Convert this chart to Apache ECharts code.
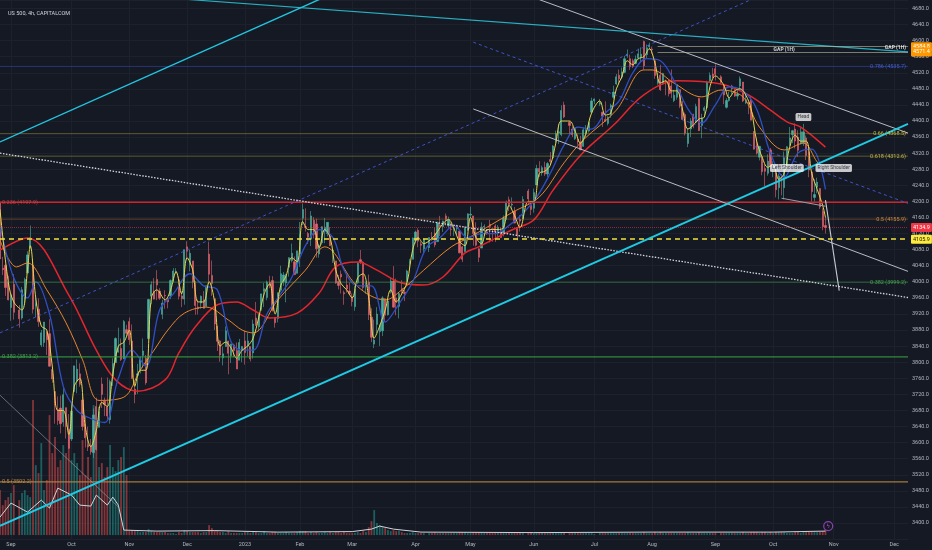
<!DOCTYPE html>
<html><head><meta charset="utf-8">
<script src="https://cdn.jsdelivr.net/npm/echarts@6/dist/echarts.min.js"></script>
<style>html,body{margin:0;padding:0;background:#151924}#c{width:932px;height:550px}</style>
</head><body><div id="c"></div><script>
// ---- daily candles: [day, open, high, low, close, volume] ----
const aug22=[[26,4198,4203,4057,4057,45],[29,4034,4062,4017,4030,30],[30,4041,4044,3965,3986,35],[31,4000,4015,3954,3955,38]];
const sep22=[[1,3936,3970,3903,3967,42],[2,3994,4019,3906,3924,50],[6,3930,3942,3886,3908,35],[7,3910,3987,3906,3980,42],[8,3959,4010,3944,4006,45],[9,4022,4076,4022,4067,40],[12,4084,4140,4083,4110,38],[13,4041,4050,3921,3932,135],[14,3940,3961,3912,3946,70],[15,3932,3959,3888,3901,62],[16,3843,3880,3838,3873,92],[19,3849,3900,3838,3900,45],[20,3876,3876,3818,3856,55],[21,3871,3907,3789,3790,120],[22,3782,3790,3749,3758,82],[23,3727,3727,3647,3693,98],[26,3682,3715,3644,3655,68],[27,3686,3717,3623,3647,75],[28,3651,3736,3640,3719,90],[29,3687,3687,3610,3640,82],[30,3633,3671,3584,3586,105]];
const oct22=[[3,3609,3698,3604,3678,75],[4,3727,3791,3727,3791,82],[5,3753,3807,3723,3783,72],[6,3771,3797,3739,3745,60],[7,3706,3718,3630,3640,95],[10,3647,3665,3588,3612,60],[11,3595,3640,3579,3589,78],[12,3591,3609,3570,3577,58],[13,3575,3685,3562,3669,130],[14,3690,3712,3580,3583,105],[17,3638,3689,3638,3677,68],[18,3746,3762,3686,3720,72],[19,3703,3712,3666,3695,58],[20,3689,3762,3657,3666,68],[21,3657,3757,3647,3752,90],[24,3762,3810,3741,3797,68],[25,3799,3862,3799,3859,64],[26,3825,3886,3824,3830,75],[27,3834,3859,3803,3807,78],[28,3808,3905,3808,3901,88],[31,3881,3893,3863,3872,60]];
const nov22=[[1,3901,3911,3843,3856,4],[2,3853,3894,3758,3760,5],[3,3733,3750,3698,3720,4],[4,3767,3796,3721,3771,4],[7,3780,3814,3772,3807,3],[8,3817,3859,3786,3828,3],[9,3810,3818,3744,3749,3],[10,3859,3958,3859,3956,6],[11,3964,4001,3944,3993,4],[14,3977,4009,3956,3957,3],[15,4006,4029,3954,3992,3],[16,3977,3984,3955,3959,3],[17,3919,3955,3907,3947,3],[18,3966,3979,3933,3965,3],[21,3956,3962,3934,3950,2],[22,3965,4006,3957,4003,2],[23,4001,4034,3999,4027,2],[25,4023,4034,4020,4026,1],[28,4005,4013,3956,3964,3],[29,3965,3976,3937,3958,2],[30,3957,4080,3943,4080,5]];
const dec22=[[1,4087,4101,4054,4076,4],[2,4041,4080,4026,4071,3],[5,4052,4052,3984,3999,3],[6,3996,4002,3918,3941,3],[7,3937,3956,3919,3933,3],[8,3947,3966,3933,3964,2],[9,3955,3977,3933,3934,3],[12,3939,3991,3937,3990,3],[13,4069,4100,3994,4019,10],[14,4016,4053,3965,3996,7],[15,3958,3958,3880,3895,5],[16,3890,3890,3828,3852,4],[19,3853,3855,3801,3818,3],[20,3811,3839,3792,3821,3],[21,3839,3889,3839,3878,2],[22,3853,3853,3770,3822,4],[23,3816,3846,3798,3845,2],[27,3843,3846,3813,3829,2],[28,3829,3849,3783,3783,2],[29,3805,3858,3805,3849,2],[30,3830,3840,3800,3839,2]];
const jan23=[[3,3853,3878,3794,3824,3],[4,3840,3873,3815,3853,3],[5,3839,3839,3802,3808,2],[6,3823,3906,3809,3895,4],[9,3910,3950,3890,3893,3],[10,3888,3920,3877,3919,2],[11,3932,3970,3928,3970,2],[12,3977,3997,3937,3983,4],[13,3961,4003,3954,3999,2],[17,3999,4015,3984,3991,2],[18,4003,4014,3926,3929,3],[19,3912,3912,3886,3898,3],[20,3909,3973,3899,3973,2],[23,3979,4040,3974,4020,2],[24,4001,4024,3990,4017,2],[25,3997,4020,3949,4016,3],[26,4036,4061,4013,4060,2],[27,4053,4095,4048,4071,2],[30,4050,4063,4018,4018,2],[31,4021,4077,4021,4077,3]];
const feb23=[[1,4070,4149,4037,4119,4],[2,4158,4195,4141,4180,4],[3,4137,4183,4125,4136,4],[6,4120,4124,4094,4111,2],[7,4106,4176,4089,4164,3],[8,4153,4161,4108,4118,2],[9,4144,4157,4060,4082,3],[10,4069,4094,4060,4090,2],[13,4097,4138,4092,4137,2],[14,4127,4159,4096,4136,3],[15,4120,4148,4113,4148,2],[16,4114,4136,4089,4090,3],[17,4073,4081,4047,4079,2],[21,4052,4052,3995,3997,3],[22,4001,4017,3981,3991,3],[23,4019,4028,3971,4012,2],[24,3973,3978,3943,3970,3],[27,3992,4018,3973,3982,2],[28,3977,3998,3968,3970,2]];
const mar23=[[1,3963,3971,3939,3951,2],[2,3938,3990,3928,3981,2],[3,3998,4048,3995,4046,3],[6,4055,4079,4044,4048,2],[7,4049,4051,3980,3986,4],[8,3988,4000,3970,3992,3],[9,3999,4018,3905,3918,8],[10,3912,3934,3850,3862,14],[13,3845,3906,3835,3855,25],[14,3894,3937,3873,3920,12],[15,3876,3894,3840,3892,10],[16,3878,3964,3865,3960,8],[17,3958,3959,3901,3917,7],[20,3918,3956,3916,3952,5],[21,3976,4010,3971,4002,4],[22,4002,4039,3936,3937,5],[23,3960,4008,3917,3949,4],[24,3939,3972,3909,3971,4],[27,3983,4004,3970,3977,3],[28,3974,3980,3952,3971,2],[29,3999,4030,3999,4027,2],[30,4046,4057,4033,4051,2],[31,4056,4110,4056,4109,3]];
const apr23=[[3,4102,4127,4095,4124,2],[4,4128,4133,4086,4101,2],[5,4094,4100,4072,4091,2],[6,4082,4107,4069,4105,2],[10,4085,4110,4074,4110,2],[11,4111,4124,4102,4109,2],[12,4121,4135,4086,4092,3],[13,4100,4150,4099,4146,2],[14,4141,4164,4114,4138,2],[17,4137,4152,4124,4151,2],[18,4164,4170,4140,4155,2],[19,4139,4162,4135,4155,2],[20,4131,4148,4114,4130,2],[21,4132,4138,4114,4133,2],[24,4132,4142,4117,4138,2],[25,4126,4126,4071,4072,3],[26,4087,4089,4049,4056,3],[27,4075,4138,4075,4136,3],[28,4129,4170,4127,4169,2]];
const may23=[[1,4166,4187,4161,4168,2],[2,4164,4164,4090,4120,3],[3,4122,4148,4088,4091,3],[4,4082,4083,4049,4061,3],[5,4084,4148,4084,4136,3],[8,4136,4143,4124,4138,2],[9,4124,4131,4117,4120,2],[10,4143,4154,4098,4138,2],[11,4132,4133,4100,4131,2],[12,4139,4143,4099,4124,2],[15,4126,4141,4111,4136,2],[16,4127,4135,4109,4110,2],[17,4122,4165,4113,4159,2],[18,4157,4202,4154,4198,2],[19,4204,4212,4176,4192,2],[22,4191,4210,4180,4193,2],[23,4176,4186,4146,4146,2],[24,4133,4133,4103,4116,2],[25,4155,4166,4125,4151,2],[26,4156,4213,4155,4205,2],[30,4226,4231,4192,4206,2],[31,4190,4195,4166,4180,3]];
const jun23=[[1,4183,4232,4172,4222,2],[2,4241,4291,4241,4282,2],[5,4282,4300,4261,4273,2],[6,4271,4289,4264,4284,2],[7,4285,4299,4263,4268,2],[8,4268,4298,4261,4294,2],[9,4304,4323,4293,4299,2],[12,4308,4340,4305,4338,2],[13,4350,4376,4346,4369,2],[14,4371,4392,4343,4373,2],[15,4366,4439,4362,4426,3],[16,4440,4448,4407,4410,3],[20,4397,4400,4368,4389,2],[21,4380,4387,4360,4366,2],[22,4356,4383,4353,4382,2],[23,4354,4367,4341,4348,2],[26,4345,4363,4328,4328,2],[27,4337,4384,4336,4378,2],[28,4367,4390,4360,4377,2],[29,4375,4398,4371,4396,2],[30,4422,4458,4422,4450,2]];
const jul23=[[3,4450,4456,4442,4455,1],[5,4442,4455,4437,4446,2],[6,4422,4422,4385,4412,2],[7,4404,4449,4399,4399,2],[10,4394,4412,4389,4409,2],[11,4415,4443,4408,4439,2],[12,4459,4488,4455,4472,2],[13,4492,4517,4490,4510,2],[14,4514,4528,4494,4505,2],[17,4509,4533,4504,4522,2],[18,4521,4562,4519,4555,2],[19,4563,4578,4557,4566,2],[20,4555,4565,4527,4535,2],[21,4550,4555,4532,4536,2],[24,4543,4563,4541,4554,2],[25,4556,4580,4553,4567,2],[26,4558,4583,4547,4566,2],[27,4598,4600,4528,4537,3],[28,4565,4590,4556,4582,2],[31,4585,4595,4577,4589,2]];
const aug23=[[1,4579,4585,4567,4577,2],[2,4550,4550,4505,4513,3],[3,4494,4520,4490,4502,2],[4,4514,4540,4475,4478,3],[7,4492,4520,4491,4518,2],[8,4499,4503,4464,4499,2],[9,4501,4503,4461,4468,2],[10,4487,4528,4457,4469,2],[11,4451,4477,4447,4464,2],[14,4459,4491,4453,4490,2],[15,4478,4478,4432,4437,2],[16,4433,4450,4403,4404,2],[17,4416,4421,4364,4370,2],[18,4344,4381,4335,4370,3],[21,4380,4407,4360,4400,2],[22,4416,4418,4382,4387,2],[23,4397,4443,4397,4436,2],[24,4456,4458,4375,4376,3],[25,4389,4418,4357,4406,2],[28,4426,4437,4411,4433,2],[29,4433,4500,4431,4497,2],[30,4500,4521,4496,4514,2],[31,4517,4532,4507,4508,2]];
const sep23=[[1,4530,4541,4501,4516,2],[5,4510,4514,4493,4497,2],[6,4491,4491,4442,4465,2],[7,4434,4457,4431,4451,2],[8,4451,4473,4448,4457,2],[11,4480,4490,4467,4487,2],[12,4473,4481,4460,4462,2],[13,4462,4479,4453,4467,2],[14,4487,4511,4478,4505,2],[15,4497,4497,4447,4450,3],[18,4445,4467,4442,4453,2],[19,4445,4449,4417,4444,2],[20,4452,4461,4402,4402,3],[21,4374,4375,4329,4330,3],[22,4341,4357,4316,4320,3],[25,4310,4338,4302,4337,2],[26,4312,4313,4265,4274,3],[27,4282,4292,4238,4275,3],[28,4270,4317,4264,4300,2],[29,4328,4333,4274,4288,3]];
const oct23=[[2,4284,4300,4260,4288,2],[3,4270,4282,4210,4229,3],[4,4234,4269,4205,4263,3],[5,4259,4268,4215,4258,3],[6,4234,4324,4205,4308,3],[9,4290,4337,4284,4336,2],[10,4339,4385,4339,4358,2],[11,4366,4378,4345,4376,2],[12,4380,4394,4332,4350,3],[13,4360,4377,4311,4327,3],[16,4343,4383,4342,4373,2],[17,4346,4393,4338,4373,3],[18,4358,4364,4303,4314,3],[19,4322,4340,4260,4278,3],[20,4273,4276,4200,4224,3],[23,4210,4255,4200,4217,3],[24,4235,4259,4220,4248,3],[25,4232,4233,4181,4186,3],[26,4175,4183,4128,4137,4],[27,4140,4162,4120,4135,5]];

// ---- moving averages: [yy-mm-dd, value] ----
const maRed=[['22-08-26',4079],['22-09-09',4109],['22-09-30',3967],['22-10-14',3830],['22-10-25',3756],['22-11-04',3728],['22-11-18',3756],['22-11-28',3823],['22-12-06',3888],['22-12-16',3943],['22-12-28',3950],['23-01-06',3930],['23-01-17',3910],['23-01-31',3922],['23-02-10',3972],['23-02-21',4037],['23-03-03',4049],['23-03-14',4029],['23-03-27',3997],['23-04-06',3992],['23-04-17',4012],['23-04-27',4072],['23-05-04',4087],['23-05-22',4129],['23-06-01',4154],['23-06-12',4228],['23-06-26',4315],['23-07-12',4390],['23-07-27',4465],['23-08-14',4500],['23-09-05',4492],['23-09-19',4465],['23-09-29',4427],['23-10-09',4398],['23-10-16',4385],['23-10-27',4335]];
const maOrange=[['22-08-26',4104],['22-09-05',4037],['22-09-09',4047],['22-09-20',3980],['22-09-29',3898],['22-10-07',3806],['22-10-17',3705],['22-10-28',3713],['22-11-07',3781],['22-11-14',3830],['22-11-21',3880],['22-11-30',3922],['22-12-12',3937],['22-12-22',3905],['22-12-30',3880],['23-01-06',3873],['23-01-20',3955],['23-02-03',4029],['23-02-14',4087],['23-03-03',3988],['23-03-17',3955],['23-03-27',3980],['23-04-06',4029],['23-04-20',4087],['23-05-01',4112],['23-05-22',4172],['23-06-05',4211],['23-06-16',4296],['23-06-27',4353],['23-07-13',4427],['23-07-27',4527],['23-08-01',4527],['23-08-11',4494],['23-08-25',4460],['23-09-05',4477],['23-09-15',4460],['23-09-25',4385],['23-10-06',4328],['23-10-17',4345],['23-10-24',4298],['23-10-27',4278]];
const maBlue=[['22-08-26',4140],['22-09-02',4010],['22-09-09',3960],['22-09-14',4000],['22-09-21',3920],['22-09-28',3740],['22-10-05',3680],['22-10-12',3660],['22-10-19',3650],['22-10-26',3760],['22-11-02',3830],['22-11-09',3790],['22-11-16',3930],['22-11-23',3970],['22-12-02',4020],['22-12-09',3990],['22-12-16',3980],['22-12-23',3850],['22-12-30',3830],['23-01-06',3830],['23-01-13',3920],['23-01-20',3960],['23-01-27',4010],['23-02-03',4090],['23-02-10',4130],['23-02-17',4110],['23-02-24',4030],['23-03-03',3990],['23-03-10',3990],['23-03-17',3900],['23-03-24',3945],['23-03-31',4000],['23-04-07',4085],['23-04-14',4110],['23-04-21',4140],['23-04-28',4110],['23-05-05',4120],['23-05-12',4120],['23-05-19',4140],['23-05-26',4170],['23-06-02',4210],['23-06-09',4270],['23-06-16',4340],['23-06-23',4385],['23-06-30',4380],['23-07-07',4420],['23-07-14',4450],['23-07-21',4520],['23-07-28',4555],['23-08-04',4550],['23-08-11',4500],['23-08-18',4430],['23-08-25',4395],['23-09-01',4440],['23-09-08',4485],['23-09-15',4475],['23-09-22',4430],['23-09-29',4320],['23-10-06',4260],['23-10-13',4320],['23-10-20',4330],['23-10-27',4230]];
const maYellow=[['22-08-26',4180],['22-08-31',4000],['22-09-02',3950],['22-09-07',3930],['22-09-09',4030],['22-09-12',4090],['22-09-14',3960],['22-09-16',3890],['22-09-20',3880],['22-09-22',3790],['22-09-26',3680],['22-09-28',3680],['22-09-30',3620],['22-10-04',3740],['22-10-06',3760],['22-10-10',3640],['22-10-12',3590],['22-10-14',3630],['22-10-18',3700],['22-10-20',3690],['22-10-24',3770],['22-10-26',3840],['22-10-28',3850],['22-11-01',3880],['22-11-03',3740],['22-11-07',3780],['22-11-09',3780],['22-11-11',3960],['22-11-15',3980],['22-11-18',3955],['22-11-22',3980],['22-11-25',4025],['22-11-29',3970],['22-12-01',4060],['22-12-05',4030],['22-12-07',3950],['22-12-09',3950],['22-12-13',4000],['22-12-15',3950],['22-12-19',3840],['22-12-21',3850],['22-12-23',3835],['22-12-28',3810],['22-12-30',3830],['23-01-04',3840],['23-01-06',3860],['23-01-10',3910],['23-01-12',3970],['23-01-17',3995],['23-01-19',3920],['23-01-23',3990],['23-01-25',4015],['23-01-27',4060],['23-01-31',4050],['23-02-02',4150],['23-02-06',4130],['23-02-08',4130],['23-02-10',4085],['23-02-14',4130],['23-02-16',4110],['23-02-21',4030],['23-02-23',3995],['23-02-27',3980],['23-03-01',3960],['23-03-03',4010],['23-03-07',4020],['23-03-09',3960],['23-03-13',3860],['23-03-15',3890],['23-03-17',3930],['23-03-21',3980],['23-03-23',3950],['23-03-27',3970],['23-03-29',4000],['23-03-31',4080],['23-04-04',4110],['23-04-06',4095],['23-04-11',4108],['23-04-13',4125],['23-04-17',4145],['23-04-19',4155],['23-04-21',4132],['23-04-25',4100],['23-04-27',4090],['23-05-01',4160],['23-05-03',4110],['23-05-05',4095],['23-05-09',4130],['23-05-11',4130],['23-05-15',4130],['23-05-17',4135],['23-05-19',4190],['23-05-23',4165],['23-05-25',4135],['23-05-30',4200],['23-06-01',4200],['23-06-05',4270],['23-06-07',4275],['23-06-09',4290],['23-06-13',4345],['23-06-15',4400],['23-06-20',4400],['23-06-22',4375],['23-06-26',4345],['23-06-28',4370],['23-06-30',4420],['23-07-05',4450],['23-07-07',4415],['23-07-11',4420],['23-07-13',4480],['23-07-17',4510],['23-07-19',4550],['23-07-21',4540],['23-07-25',4555],['23-07-27',4560],['23-07-31',4580],['23-08-02',4545],['23-08-04',4495],['23-08-08',4500],['23-08-10',4475],['23-08-14',4475],['23-08-16',4430],['23-08-18',4380],['23-08-22',4390],['23-08-24',4405],['23-08-28',4410],['23-08-30',4485],['23-09-01',4512],['23-09-06',4490],['23-09-08',4458],['23-09-12',4475],['23-09-14',4480],['23-09-18',4465],['23-09-20',4430],['23-09-22',4350],['23-09-26',4310],['23-09-28',4285],['23-10-02',4290],['23-10-04',4255],['23-10-06',4270],['23-10-10',4335],['23-10-12',4365],['23-10-16',4350],['23-10-18',4350],['23-10-20',4270],['23-10-24',4230],['23-10-26',4190],['23-10-27',4160]];
const volMa=[['22-08-26',18],['22-09-01',32],['22-09-09',23],['22-09-16',35],['22-09-21',27],['22-09-26',47],['22-10-03',40],['22-10-06',30],['22-10-12',29],['22-10-14',40],['22-10-20',30],['22-10-24',38],['22-10-26',30],['22-10-28',5],['22-11-15',4],['22-12-15',4.5],['23-01-20',3],['23-03-01',3.5],['23-03-10',6],['23-03-15',9],['23-03-22',6],['23-04-05',3],['23-06-01',2.5],['23-08-01',3],['23-10-02',3],['23-10-27',4]];

// ---- drawn trend lines: two anchor points [date, price] ----
const lineCyanSteep=[['2022-08-26',4348],['2023-03-31',4806]];
const lineTeal=[['2022-11-28',4704],['2023-12-08',4572]];
const lineCyanLong=[['2022-08-26',3393],['2023-12-08',4393]];
const lineChannelTop=[['2023-06-05',4702],['2023-12-08',4370]];
const lineChannelLow=[['2023-05-02',4430],['2023-12-08',4026]];
const lineBlueUp=[['2022-08-26',3873],['2023-09-20',4702]];
const lineBlueDown=[['2023-05-02',4596],['2023-12-08',4195]];
const lineDotted=[['2022-08-26',4320],['2023-12-08',3961]];
const lineNeck=[['2023-10-05',4208],['2023-10-27',4188]];
const lineProjection=[['2023-10-27',4203],['2023-11-03',3978]];
const lineOld=[['2022-08-26',3718],['2022-10-26',3440]];

// ---- levels and labels ----
const fibLevels=[4535.7,4368.5,4312.6,4197.9,4155.9,3999.2,3813.2,3502.2];
const fibRatios=['0.786','0.66','0.618','0.236','0.5','0.382','0.382','0.5'];
const gapLevels=[4584.8,4571.4];
const gapStart='2023-08-03';
const lastPrice=4134.9;
const dashedLevel=4105.9;
const patternNames=['Head','Left Shoulder','Right Shoulder'];
const patternDates=['2023-10-17','2023-10-09','2023-11-01'];
const patternPrices=[4410,4283,4283];
const gapLabelDates=['2023-10-06','2023-12-08'];
const gapLabelPrices=[4577,4582];
const eventDate='2023-10-30', eventVol=9;
const MONTHS=['Jan','Feb','Mar','Apr','May','Jun','Jul','Aug','Sep','Oct','Nov','Dec'];
const firstDay='2022-08-26', lastDay='2023-12-08';
const closedDays=['2022-11-24','2022-12-26','2023-01-02','2023-01-16','2023-02-20'];

// ---- build ----
const FONT='Roboto, "Liberation Sans", sans-serif';
// bar-index axis: weekdays, without the session days the source feed skipped
const cats=[];
for(let d=new Date(firstDay+'T00:00:00Z');d<=new Date(lastDay+'T00:00:00Z');d.setUTCDate(d.getUTCDate()+1)){
  const wd=d.getUTCDay(); const s=d.toISOString().slice(0,10);
  if(wd!==0&&wd!==6&&closedDays.indexOf(s)<0) cats.push(s);
}
const catIdx={}; cats.forEach((c,i)=>catIdx[c]=i);
const idx=ds=>{const d=new Date(ds+'T00:00:00Z');for(let k=0;k<5;k++){const s=d.toISOString().slice(0,10);if(catIdx[s]!==undefined)return catIdx[s];d.setUTCDate(d.getUTCDate()-1);}return 0;};
const lastI=cats.length-1;

const monthSets=[['2022-08',aug22],['2022-09',sep22],['2022-10',oct22],['2022-11',nov22],['2022-12',dec22],['2023-01',jan23],['2023-02',feb23],['2023-03',mar23],['2023-04',apr23],['2023-05',may23],['2023-06',jun23],['2023-07',jul23],['2023-08',aug23],['2023-09',sep23],['2023-10',oct23]];
const rows=[];
monthSets.forEach(([ym,arr])=>arr.forEach(r=>rows.push([idx(ym+'-'+String(r[0]).padStart(2,'0')),r[1],r[2],r[3],r[4],r[5]])));
const candleData=rows.map(r=>[r[0],r[1],r[4],r[3],r[2]]);
const volData=rows.map(r=>({value:[r[0],r[5]],itemStyle:{color:r[4]>=r[1]?'rgba(38,166,154,0.5)':'rgba(239,83,80,0.5)'}}));
const ma=a=>a.map(p=>[idx('20'+p[0]),p[1]]);
const pts=a=>a.map(p=>[idx(p[0]),p[1]]);
const isMonthStart=i=>i>0&&cats[i].slice(0,7)!==cats[i-1].slice(0,7);

// styles
const fibStyle=[
 {side:'right',text:'#4d6ae6',line:'rgba(65,95,235,0.4)',w:1},
 {side:'right',text:'#e2d34a',line:'rgba(160,160,60,0.5)',w:1},
 {side:'right',text:'#e2d34a',line:'rgba(160,160,60,0.5)',w:1},
 {side:'left',text:'#e04848',line:'#c8262c',w:1.5},
 {side:'right',text:'#f0a040',line:'rgba(185,115,60,0.45)',w:1},
 {side:'right',text:'#4cbb50',line:'rgba(76,175,80,0.5)',w:1},
 {side:'left',text:'#4cbb50',line:'#37a83f',w:1},
 {side:'left',text:'#e09a45',line:'rgba(180,132,66,0.9)',w:1.2}
];
const tagLabel=(txt,bg,fg)=>({show:true,position:'end',distance:3,formatter:txt,backgroundColor:bg,color:fg,fontSize:5.5,fontFamily:FONT,padding:[1.5,2],borderRadius:1});
const markData=[];
markData.push({yAxis:lastPrice,lineStyle:{color:'rgba(242,54,69,0.55)',width:1,type:'dotted'},label:tagLabel(lastPrice.toFixed(1),'#f23645','#ffffff')});
markData.push({yAxis:dashedLevel,lineStyle:{color:'#f2e23a',width:1.6,type:[5,4]},label:tagLabel(dashedLevel.toFixed(1),'#ffeb3b','#131722')});
gapLevels.forEach(v=>markData.push([
 {coord:[idx(gapStart),v],lineStyle:{color:'rgba(190,190,160,0.6)',width:1,type:'solid'},label:tagLabel(v.toFixed(1),'#ff9800','#ffffff')},
 {coord:[lastI,v],lineStyle:{color:'rgba(190,190,160,0.6)',width:1,type:'solid'},label:tagLabel(v.toFixed(1),'#ff9800','#ffffff')}
]));

const labelItems=[];
fibLevels.forEach((v,i)=>{
 const st=fibStyle[i];
 labelItems.push({value:[st.side==='right'?lastI:0,v],label:{show:true,formatter:fibRatios[i]+' ('+v.toFixed(1)+')',position:st.side==='right'?'left':'right',distance:2,color:st.text,fontSize:5.5,fontFamily:FONT}});
});
patternNames.forEach((n,i)=>labelItems.push({value:[idx(patternDates[i]),patternPrices[i]],label:{show:true,formatter:n,position:'inside',color:'#131722',backgroundColor:'#f4f4f4',padding:[1.5,2],borderRadius:1.5,fontSize:5,fontFamily:FONT}}));
labelItems.push({value:[idx(gapLabelDates[0]),gapLabelPrices[0]],label:{show:true,formatter:'GAP (1H)',position:'inside',color:'#ffffff',fontWeight:'bold',fontSize:5,fontFamily:FONT}});
labelItems.push({value:[idx(gapLabelDates[1]),gapLabelPrices[1]],label:{show:true,formatter:'GAP (1H)',position:'left',distance:2,color:'#ffffff',fontWeight:'bold',fontSize:5,fontFamily:FONT}});

const drawLine=(name,data,color,width,type,z)=>({name,type:'line',data:pts(data),showSymbol:false,symbol:'none',silent:true,z:z||4,lineStyle:{color,width,type:type||'solid'},animation:false});
const maLine=(name,data,color,width)=>({name,type:'line',data:ma(data),showSymbol:false,symbol:'none',smooth:0.35,silent:true,z:3,lineStyle:{color,width},animation:false});
const fibSeries=fibLevels.map((v,i)=>({name:'fib '+fibRatios[i],type:'line',data:[[0,v],[lastI,v]],showSymbol:false,symbol:'none',silent:true,z:4,lineStyle:{color:fibStyle[i].line,width:fibStyle[i].w},animation:false}));

const option={
 backgroundColor:'#151924',
 animation:false,
 title:{text:'US 500, 4h, CAPITALCOM',left:3,top:5.5,textStyle:{color:'#d1d4dc',fontSize:5.5,fontWeight:'normal',fontFamily:FONT}},
 grid:{left:0,right:24,top:0,bottom:10.9},
 xAxis:[{type:'category',data:cats,boundaryGap:false,
   axisLine:{show:false},axisTick:{show:false},
   splitLine:{show:true,interval:isMonthStart,lineStyle:{color:'#1d212c',width:1}},
   axisLabel:{color:'#b2b5be',fontSize:5.5,fontFamily:FONT,margin:2.5,interval:isMonthStart,
     formatter:v=>{const m=+v.slice(5,7);return m===1?v.slice(0,4):MONTHS[m-1];}}}],
 yAxis:[{type:'value',position:'right',min:3360,max:4701,interval:40,
   axisLine:{show:false},axisTick:{show:false},
   splitLine:{show:true,lineStyle:{color:'#1d212c',width:1}},
   axisLabel:{color:'#b2b5be',fontSize:5.5,fontFamily:FONT,margin:4,showMinLabel:false,showMaxLabel:false,formatter:v=>v.toFixed(1)}},
  {type:'value',min:-4,max:535.1,show:false,splitLine:{show:false}}],
 series:[
  {name:'Volume',type:'bar',xAxisIndex:0,yAxisIndex:1,data:volData,barWidth:1.8,z:1,silent:true,animation:false},
  {name:'Volume MA',type:'line',yAxisIndex:1,data:ma(volMa),showSymbol:false,symbol:'none',z:1,silent:true,lineStyle:{color:'#d0d3db',width:1},animation:false},
  {name:'event',type:'scatter',yAxisIndex:1,data:[[idx(eventDate),eventVol]],symbol:'circle',symbolSize:9,z:2,silent:true,
   itemStyle:{color:'rgba(21,25,36,0.9)',borderColor:'#a64bd6',borderWidth:1.2},
   label:{show:true,formatter:'ϟ',position:'inside',color:'#d05be0',fontSize:6,fontFamily:'DejaVu Sans'},animation:false},
  {name:'US500',type:'candlestick',data:candleData,encode:{x:0,y:[1,2,3,4]},barWidth:1.7,z:2,silent:true,
   itemStyle:{color:'#4aae9f',color0:'#e2646f',borderColor:'#4aae9f',borderColor0:'#e2646f',borderWidth:0.6},animation:false},
  maLine('MA red',maRed,'#e3262d',1.5),
  maLine('MA orange',maOrange,'#e8862e',1),
  maLine('MA blue',maBlue,'#2f4fc4',1.3),
  maLine('MA yellow',maYellow,'#e4d64a',1),
  ...fibSeries,
  drawLine('blue up',lineBlueUp,'rgba(72,92,225,0.85)',1,[3,3]),
  drawLine('blue down',lineBlueDown,'rgba(72,92,225,0.85)',1,[3,3]),
  drawLine('dotted',lineDotted,'#d6d8de',1.3,[1.5,1.5]),
  drawLine('old',lineOld,'rgba(170,170,175,0.55)',1),
  drawLine('channel top',lineChannelTop,'#b9bcc4',1),
  drawLine('channel low',lineChannelLow,'#b9bcc4',1),
  drawLine('neck',lineNeck,'#9a9da6',1),
  drawLine('projection',lineProjection,'#c8cad0',1.1),
  drawLine('teal',lineTeal,'#28b0c2',1.1),
  drawLine('cyan steep',lineCyanSteep,'#22c6e0',1.4),
  {...drawLine('cyan long',lineCyanLong,'#1fcbe4',1.8,'solid',5),
   markLine:{symbol:['none','none'],silent:true,animation:false,data:markData}},
  {name:'labels',type:'scatter',data:labelItems,symbolSize:0,z:7,silent:true,animation:false}
 ]
};
const chart=echarts.init(document.getElementById('c'));
chart.setOption(option);
</script></body></html>
